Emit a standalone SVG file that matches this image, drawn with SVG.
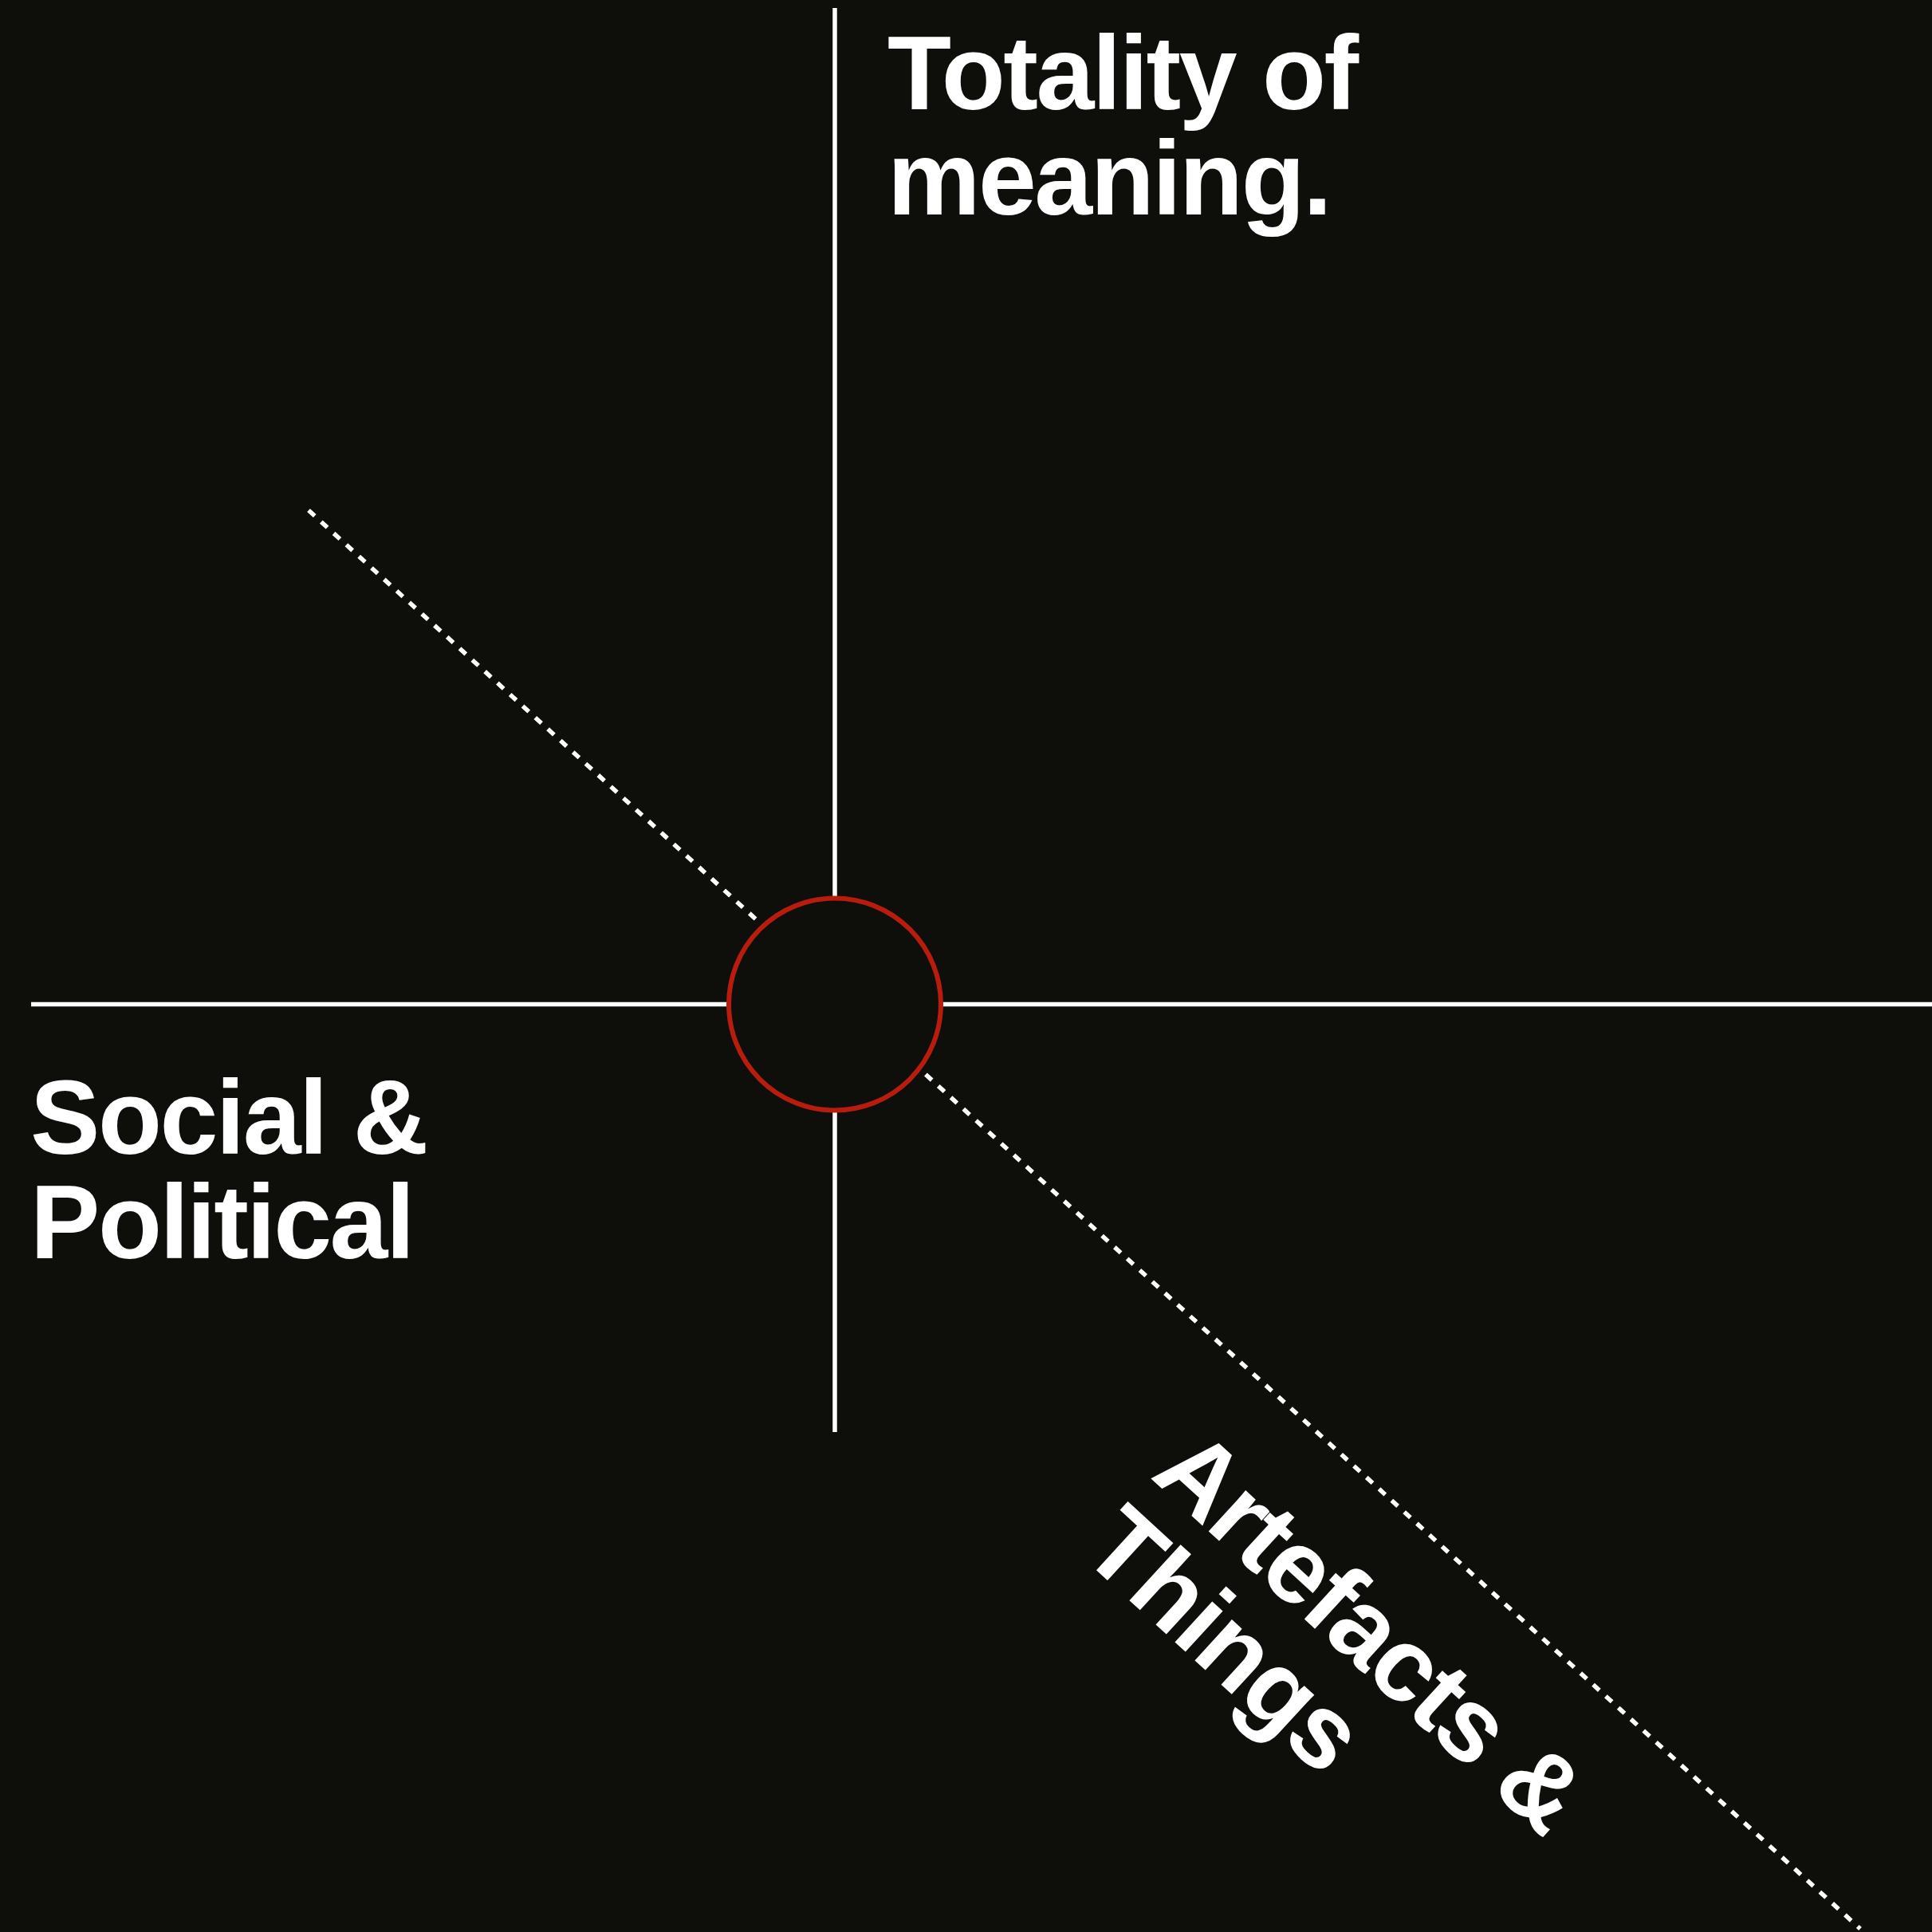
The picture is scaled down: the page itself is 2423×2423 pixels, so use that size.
<svg xmlns="http://www.w3.org/2000/svg" width="2423" height="2423" viewBox="0 0 2423 2423">
<style>
.axis{stroke:#ffffff;stroke-width:5.5;fill:none}
.dash{stroke:#ffffff;stroke-width:5.5;fill:none;stroke-dasharray:10.5 10.9}
.lbl{font-family:"Liberation Sans",Arial,Helvetica,sans-serif;font-weight:bold;font-size:131px;letter-spacing:-2.5px;fill:#ffffff}
</style>
<rect x="0" y="0" width="2423" height="2423" fill="#0e0f0b"/>
<g id="connectors">
<line class="axis" x1="1047" y1="10" x2="1047" y2="1796"/>
<line class="axis" x1="39" y1="1259.5" x2="2423" y2="1259.5"/>
<line class="dash" x1="387" y1="640" x2="2333" y2="2419"/>
</g>
<g id="center">
<circle cx="1047" cy="1259.5" r="133" fill="#0e0f0b" stroke="#b81c0c" stroke-width="6"/>
</g>
<g id="totality">
<text class="lbl" x="1113" y="137">Totality of</text>
<text class="lbl" x="1113" y="268.5">meaning.</text>
</g>
<g id="social">
<text class="lbl" x="38" y="1447">Social &amp;</text>
<text class="lbl" x="38" y="1578">Political</text>
</g>
<g id="artefacts" transform="translate(1441 1852) rotate(42.5)">
<text class="lbl" x="0" y="0">Artefacts &amp;</text>
<text class="lbl" x="0" y="131">Things</text>
</g>
</svg>
